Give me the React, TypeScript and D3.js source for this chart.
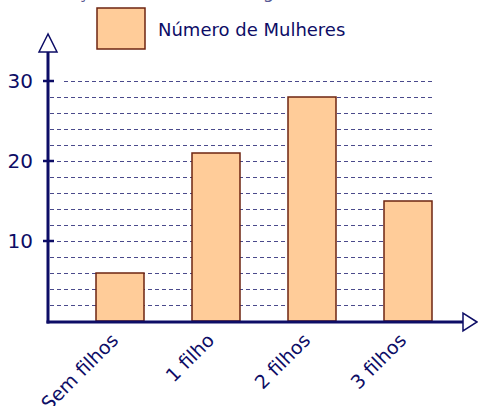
import React from "react";
import * as d3 from "d3";

// dados do gráfico
const categorias = ["Sem filhos", "1 filho", "2 filhos", "3 filhos"];
const numeroMulheres = [6, 21, 28, 15];
const yTickLabels = [10, 20, 30];
const gridValues = [2, 4, 6, 8, 10, 12, 14, 16, 18, 20, 22, 24, 26, 28, 30];
const legenda = "Número de Mulheres";
const titulo = "Distribuição das mulheres segundo o número de filhos";

const W = 478,
  H = 406;
const navy = "#0d0d66";
const font = "DejaVu Sans, Verdana, sans-serif";

const App = () => {
  const x = d3.scaleBand<string>().domain(categorias).range([72, 456]).paddingInner(0.5).paddingOuter(0.25);
  const y = d3.scaleLinear().domain([0, 30]).range([321, 81]);

  const x0 = 48,
    yBase = 322;

  return (
    <svg width={W} height={H} style={{ position: "absolute", left: 0, top: 0, fontFamily: font }}>
      <rect width={W} height={H} fill="white" />
      {/* título cortado no topo */}
      <text x={2} y={-2} fontSize={18} fill={navy} fillOpacity={0.7}>
        {titulo}
      </text>

      {/* grade */}
      {gridValues.map((v) => (
        <line
          key={v}
          x1={v === 30 ? 64 : 50}
          x2={433}
          y1={Math.round(y(v)) + 0.5}
          y2={Math.round(y(v)) + 0.5}
          stroke={navy}
          strokeOpacity={0.75}
          strokeDasharray="4,3"
        />
      ))}

      {/* barras */}
      {categorias.map((c, i) => (
        <rect
          key={c}
          x={x(c)}
          y={y(numeroMulheres[i])}
          width={x.bandwidth()}
          height={y(0) - y(numeroMulheres[i])}
          fill="#ffcc99"
          stroke="#6e2410"
          strokeWidth={1.5}
        />
      ))}

      {/* eixos */}
      <line x1={x0} x2={x0} y1={yBase + 1.5} y2={52} stroke={navy} strokeWidth={3} />
      <line x1={x0 - 1.5} x2={463} y1={yBase} y2={yBase} stroke={navy} strokeWidth={3} />
      <polygon points={`${x0},34 39,52 57,52`} fill="white" stroke={navy} strokeWidth={1.5} />
      <polygon points={`477,${yBase} 463,313 463,331`} fill="white" stroke={navy} strokeWidth={1.5} />

      {/* ticks y */}
      {yTickLabels.map((t) => (
        <g key={t}>
          <line x1={43} x2={54} y1={y(t)} y2={y(t)} stroke={navy} strokeWidth={2.5} />
          <text x={33} y={y(t)} dy="0.36em" textAnchor="end" fontSize={20} fill={navy}>
            {t}
          </text>
        </g>
      ))}

      {/* rótulos x */}
      {categorias.map((c) => (
        <text
          key={c}
          transform={`translate(${(x(c) as number) + x.bandwidth() / 2 - 10},${332}) rotate(-45)`}
          textAnchor="end"
          dy="0.7em"
          fontSize={19}
          fill={navy}
        >
          {c}
        </text>
      ))}

      {/* legenda */}
      <rect x={97} y={8} width={48} height={41} fill="#ffcc99" stroke="#6e2410" strokeWidth={1.5} />
      <text x={158} y={36} fontSize={18} fill={navy}>
        {legenda}
      </text>
    </svg>
  );
};

export default App;
